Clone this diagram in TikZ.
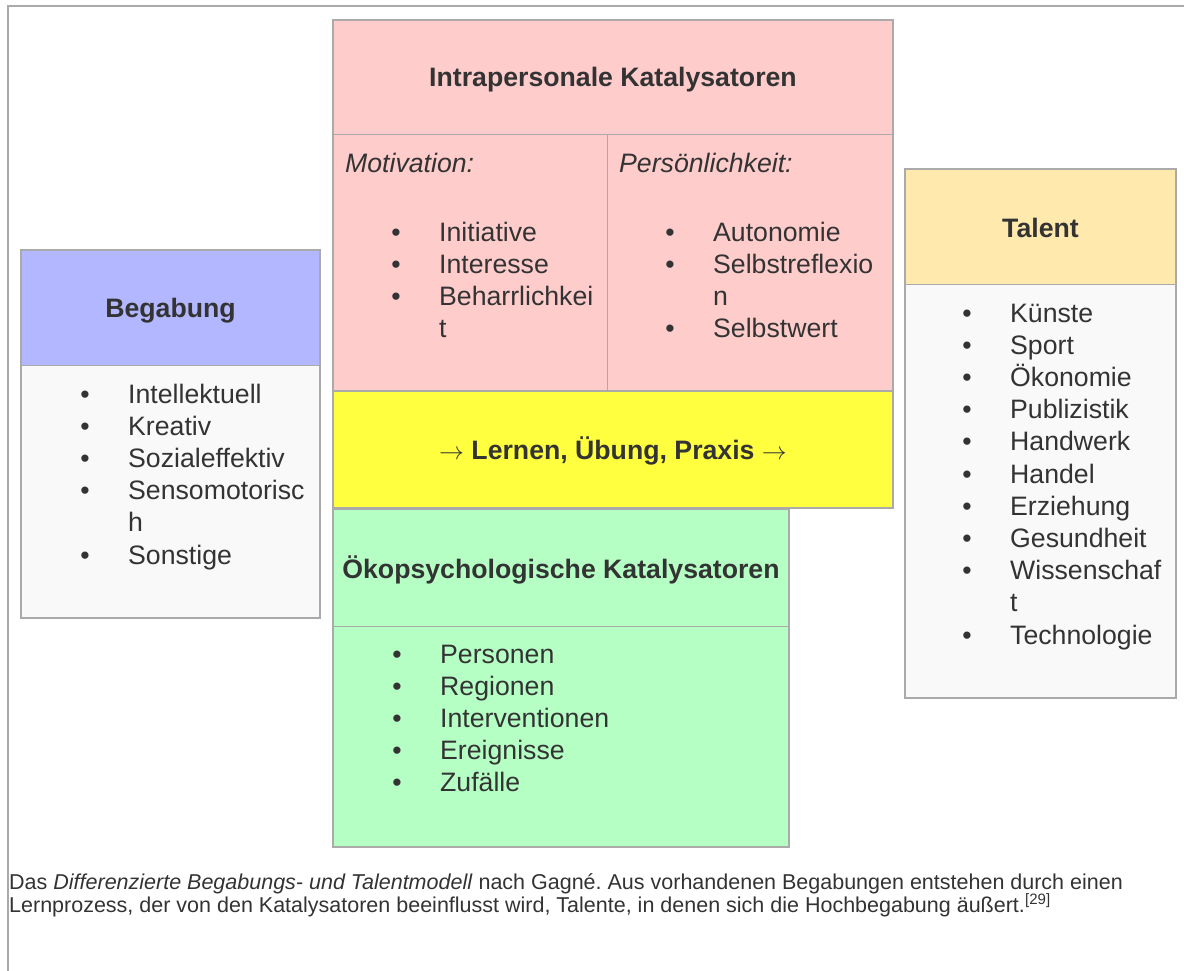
\documentclass[tikz,border=0pt]{standalone}
\usepackage{fontspec}
\setmainfont{Liberation Sans}
\usepackage{xcolor}
\usetikzlibrary{positioning}
\frenchspacing

\definecolor{rahmen}{HTML}{AAAAAA}
\definecolor{schrift}{HTML}{333333}
\definecolor{blau}{HTML}{B3B7FF}
\definecolor{rosa}{HTML}{FFCCCC}
\definecolor{gelb}{HTML}{FFFF3F}
\definecolor{gruen}{HTML}{B5FFC5}
\definecolor{sand}{HTML}{FFE9AD}
\definecolor{hell}{HTML}{F9F9F9}

% #1 Namen, #2 x des Punktes, #3 erste Grundlinie, #4 Eintraege (1 = mit Punkt)
\newcommand{\punktliste}[4]{%
  \foreach \pk/\tx [count=\i] in {#4} {
    \node[eintrag] (#1-\i) at ({#2+43},{#3+32.2*(\i-1)}) {\tx};
    \ifnum\pk=1 \node[punkt] (#1-p\i) at ({#2},{#3+32.2*(\i-1)}) {\textbullet};\fi
  }}

\begin{document}
\begin{tikzpicture}[x=1pt, y=-1pt,
    rahmenlinie/.style={draw=rahmen, line width=2pt},
    trennlinie/.style={draw=rahmen, line width=1pt},
    titel/.style={font=\fontsize{26.67}{32}\selectfont\bfseries, text=schrift, anchor=base, inner sep=0pt},
    eintrag/.style={font=\fontsize{26.67}{32}\selectfont, text=schrift, anchor=base west, inner sep=0pt},
    punkt/.style={font=\fontsize{26.67}{32}\selectfont, text=schrift, anchor=base, inner sep=0pt},
    legende/.style={font=\fontsize{21.5}{23}\selectfont, text=schrift, anchor=base west, inner sep=0pt}]

  \useasboundingbox (0,0) rectangle (1184,971);
  % Rahmen
  \draw[rahmenlinie] (8,971) -- (8,6) -- (1184,6);

  % Begabung
  \fill[blau] (21,250) rectangle (320,365);
  \fill[hell] (21,365) rectangle (320,618);
  \draw[trennlinie] (21,365) -- (320,365);
  \draw[rahmenlinie] (21,250) rectangle (320,618);
  \node[titel] (begabung) at (170.5,317) {Begabung};
  \punktliste{beg}{85}{403}{1/Intellektuell, 1/Kreativ, 1/Sozialeffektiv, 1/Sensomotorisc, 0/h, 1/Sonstige}

  % Intrapersonale Katalysatoren
  \fill[rosa] (333,20) rectangle (893,391);
  \draw[trennlinie] (333,135) -- (893,135);
  \draw[trennlinie] (607,135) -- (607,391);
  \draw[rahmenlinie] (333,20) rectangle (893,391);
  \node[titel] (intra) at (613,87) {Intrapersonale Katalysatoren};
  \node[eintrag, font=\fontsize{26.67}{32}\selectfont\itshape] (motivation) at (345,172) {Motivation:};
  \node[eintrag, font=\fontsize{26.67}{32}\selectfont\itshape] (persoenlichkeit) at (619,172) {Persönlichkeit:};
  \punktliste{mot}{396}{241}{1/Initiative, 1/Interesse, 1/Beharrlichkei, 0/t}
  \punktliste{pers}{670}{241}{1/Autonomie, 1/Selbstreflexio, 0/n, 1/Selbstwert}

  % Lernen
  \filldraw[fill=gelb, rahmenlinie] (333,391) rectangle (893,508);
  \node[titel] (lernen) at (613,459) {$\rightarrow$ Lernen, Übung, Praxis $\rightarrow$};

  % Oekopsychologische Katalysatoren
  \fill[gruen] (333,509) rectangle (789,847);
  \draw[trennlinie] (333,626) -- (789,626);
  \draw[rahmenlinie] (333,509) rectangle (789,847);
  \node[titel] (oeko) at (561,578) {Ökopsychologische Katalysatoren};
  \punktliste{oeko}{397}{663}{1/Personen, 1/Regionen, 1/Interventionen, 1/Ereignisse, 1/Zufälle}

  % Talent
  \fill[sand] (905,169) rectangle (1176,284);
  \fill[hell] (905,284) rectangle (1176,698);
  \draw[trennlinie] (905,284) -- (1176,284);
  \draw[rahmenlinie] (905,169) rectangle (1176,698);
  \node[titel] (talent) at (1040.5,237) {Talent};
  \punktliste{tal}{967}{322}{1/Künste, 1/Sport, 1/Ökonomie, 1/Publizistik, 1/Handwerk, 1/Handel, 1/Erziehung, 1/Gesundheit, 1/Wissenschaf, 0/t, 1/Technologie}

  % Bildunterschrift
  \node[legende] (legende1) at (9,889) {Das \textit{Differenzierte Begabungs- und Talentmodell} nach Gagné. Aus vorhandenen Begabungen entstehen durch einen};
  \node[legende] (legende2) at (9,912) {Lernprozess, der von den Katalysatoren beeinflusst wird, Talente, in denen sich die Hochbegabung äußert.\textsuperscript{[29]}};
\end{tikzpicture}
\end{document}
